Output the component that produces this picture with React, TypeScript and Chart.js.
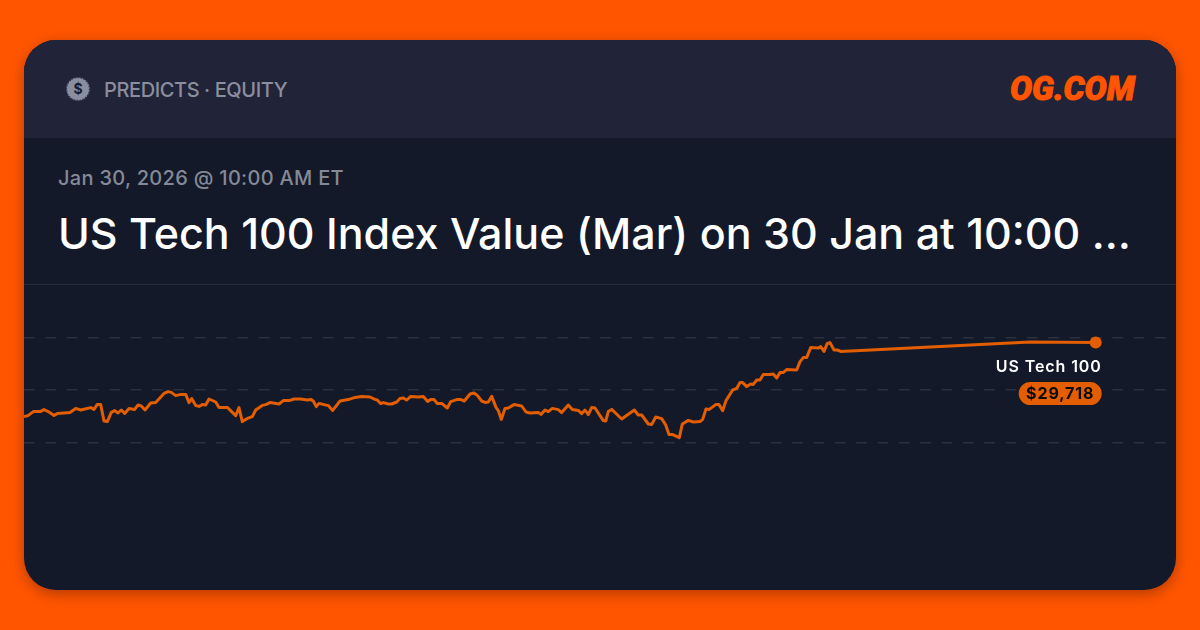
import React, { useEffect, useRef } from "react";
import { Chart, registerables } from "chart.js";

Chart.register(...registerables);

const seriesName = "US Tech 100";
const lastValueLabel = "$29,718";
const gridValues = [29744, 29481, 29217];

const timeSteps = [
  0, 4, 9.3, 16.7, 20, 25, 30, 33.3, 40, 46, 51.7, 56.7, 66.7, 70, 73.3, 76.7, 80, 83.3, 87.3, 90.7, 94, 97.3, 100.7, 105, 110.7, 114, 117.3, 121, 126.7, 131.7,
  140, 144, 147.3, 151.7, 156.7, 161.7, 165, 167.7, 171.7, 175, 178.3, 181.7, 185, 191.7, 195, 203.3, 211.7, 215, 218.3, 223.3, 228.3, 231.7, 238.3, 241.7, 246, 255, 259.3, 266, 270, 276.7,
  283.3, 286.7, 289.3, 292.3, 295, 300, 304.3, 308.7, 316, 324.3, 331, 337.7, 346, 351, 353.3, 356.7, 359.3, 364.3, 367.7, 372.7, 376, 379.3, 382.7, 386.7, 394.3, 399.3, 403.7, 407, 410, 413.3,
  417.7, 423.3, 426.7, 432.7, 437, 440.3, 446, 450, 453.3, 457.7, 461, 464.3, 467.7, 472, 474.3, 477.3, 481, 484.3, 490, 497.7, 502, 506, 514.3, 517, 521, 524.3, 528.3, 534.3, 537.7, 544.3,
  548.3, 554.3, 557.7, 561, 564.3, 567.7, 571, 579.3, 581.7, 584.3, 587.7, 597.7, 610.3, 614.3, 617.7, 624.3, 627.7, 631.7, 637.7, 641.7, 645, 648.7, 655.3, 658.3, 664.3, 669.3, 676, 678.7, 682, 685.3,
  691.7, 695, 698.7, 702, 708.7, 712.7, 716, 718.7, 722.7, 726.7, 729.3, 732.7, 736, 739.3, 746, 749.3, 752.7, 756, 759.3, 762.7, 772.7, 776, 779.3, 782.7, 786.7, 794.3, 796.7, 800, 803.3, 806,
  810, 813.3, 816.7, 1006, 1071.7,
];

const indexValues = [
  29348, 29353, 29373, 29374, 29383, 29371, 29354, 29363, 29366, 29369, 29389, 29381, 29393, 29384, 29409, 29408, 29326, 29323, 29369, 29378, 29366, 29381, 29364, 29388, 29384, 29406, 29401, 29381, 29416, 29419,
  29464, 29473, 29469, 29453, 29459, 29459, 29418, 29438, 29403, 29399, 29408, 29406, 29436, 29421, 29393, 29394, 29353, 29393, 29323, 29339, 29348, 29381, 29404, 29408, 29418, 29411, 29428, 29429, 29436, 29436,
  29431, 29434, 29426, 29398, 29414, 29408, 29403, 29379, 29426, 29433, 29444, 29448, 29446, 29434, 29431, 29413, 29418, 29411, 29411, 29421, 29439, 29441, 29431, 29449, 29446, 29449, 29424, 29434, 29433, 29414,
  29414, 29391, 29423, 29433, 29433, 29426, 29461, 29466, 29454, 29426, 29419, 29421, 29449, 29394, 29378, 29334, 29389, 29391, 29408, 29401, 29371, 29366, 29369, 29359, 29381, 29373, 29389, 29383, 29368, 29406,
  29384, 29379, 29363, 29381, 29358, 29394, 29391, 29328, 29326, 29373, 29384, 29336, 29381, 29356, 29356, 29311, 29308, 29346, 29338, 29306, 29259, 29258, 29243, 29311, 29329, 29321, 29323, 29334, 29386, 29384,
  29408, 29408, 29378, 29428, 29481, 29489, 29518, 29518, 29498, 29511, 29509, 29531, 29531, 29559, 29558, 29561, 29541, 29568, 29569, 29583, 29581, 29623, 29643, 29644, 29693, 29691, 29698, 29674, 29714, 29718,
  29681, 29681, 29674, 29721, 29718,
];

const LINE = "#E25E00";

const endLabelPlugin = {
  id: "endLabel",
  afterDatasetsDraw(chart: any) {
    const meta = chart.getDatasetMeta(0);
    const pt = meta.data[meta.data.length - 1];
    const ctx = chart.ctx;
    const right = pt.x + 6;
    ctx.save();
    ctx.textAlign = "right";
    ctx.textBaseline = "middle";
    ctx.fillStyle = "#FFFFFF";
    ctx.font = '600 16px Inter';
    ctx.letterSpacing = "0.9px";
    ctx.fillText(seriesName, right, pt.y + 24.5);
    const w = 83;
    ctx.fillStyle = LINE;
    ctx.beginPath();
    ctx.roundRect(right - w, pt.y + 39.5, w, 23, 11.5);
    ctx.fill();
    ctx.font = '700 16px Inter';
    ctx.letterSpacing = "0.9px";
    ctx.fillStyle = "#0B0B0B";
    ctx.textAlign = "center";
    ctx.fillText(lastValueLabel, right - w / 2, pt.y + 51.5);
    ctx.restore();
  },
};

export default function App() {
  const ref = useRef<HTMLCanvasElement>(null);

  useEffect(() => {
    document.body.style.margin = "0";
    const chart = new Chart(ref.current!, {
      type: "line",
      data: {
        datasets: [
          {
            label: seriesName,
            data: timeSteps.map((x, i) => ({ x, y: indexValues[i] })),
            borderColor: LINE,
            backgroundColor: LINE,
            borderWidth: 3,
            borderJoinStyle: "round",
            tension: 0,
            pointRadius: timeSteps.map((_, i) => (i === timeSteps.length - 1 ? 6 : 0)),
            pointBackgroundColor: LINE,
            pointBorderWidth: 0,
          },
        ],
      },
      options: {
        animation: false,
        responsive: false,
        maintainAspectRatio: false,
        layout: { padding: 0, autoPadding: false },
        plugins: { legend: { display: false }, tooltip: { enabled: false }, title: { display: false } },
        scales: {
          x: { type: "linear", min: 0, max: 1152, display: false },
          y: {
            type: "linear",
            min: 28481,
            max: 30006,
            afterBuildTicks: (axis: any) => {
              axis.ticks = gridValues.map((value) => ({ value }));
            },
            ticks: { display: false },
            border: { display: false, dash: [10.67, 10.67] },
            grid: { color: "#2C3140", lineWidth: 1.5, drawTicks: false, tickLength: 0 },
          },
        },
      },
      plugins: [endLabelPlugin],
    } as any);
    return () => chart.destroy();
  }, []);

  return (
    <div style={{ position: "relative", width: 1200, height: 630, background: "#FF5500", overflow: "hidden", fontFamily: "Inter, sans-serif" }}>
      <div style={{ position: "absolute", left: 24, top: 40, width: 1152, height: 550, borderRadius: 32, background: "#131929", overflow: "hidden", boxShadow: "0 4px 14px rgba(0,0,0,0.3)" }}>
        <div style={{ position: "absolute", left: 0, top: 0, width: 1152, height: 98, background: "#212338" }} />
        <svg width="26" height="26" viewBox="0 0 26 26" style={{ position: "absolute", left: 41, top: 36 }}>
          <circle cx="13" cy="13" r="11.6" fill="#8B8E9E" stroke="#2E3A5C" strokeWidth="1.6" strokeDasharray="1.5 1.5" />
          <text x="13" y="18" textAnchor="middle" fontFamily="Inter" fontWeight="700" fontSize="14" fill="#171C30">$</text>
        </svg>
        <div style={{ position: "absolute", left: 80, top: 36, fontSize: 20, fontWeight: 500, lineHeight: "28px", color: "#8B8E9C", letterSpacing: -0.4, whiteSpace: "nowrap" }}>PREDICTS · EQUITY</div>
        <div style={{ position: "absolute", left: 986, top: 30, fontFamily: "Roboto", fontWeight: 900, fontStyle: "italic", fontSize: 33, lineHeight: "38px", color: "#FF5500", WebkitTextStroke: "1px #FF5500", whiteSpace: "nowrap" }}>OG.COM</div>
        <div style={{ position: "absolute", left: 34, top: 124, fontSize: 20, fontWeight: 500, lineHeight: "28px", color: "#858997", letterSpacing: 0.3, whiteSpace: "nowrap" }}>Jan 30, 2026 @ 10:00 AM ET</div>
        <div style={{ position: "absolute", left: 34, top: 164, width: 1090, fontSize: 43, fontWeight: 500, lineHeight: "58px", color: "#FFFFFF", whiteSpace: "nowrap" }}>US Tech 100 Index Value (Mar) on 30 Jan at 10:00 …</div>
        <div style={{ position: "absolute", left: 0, top: 244, width: 1152, height: 1, background: "#272C3C" }} />
        <canvas ref={ref} width={1152} height={305} style={{ position: "absolute", left: 0, top: 245, display: "block" }} />
      </div>
    </div>
  );
}
